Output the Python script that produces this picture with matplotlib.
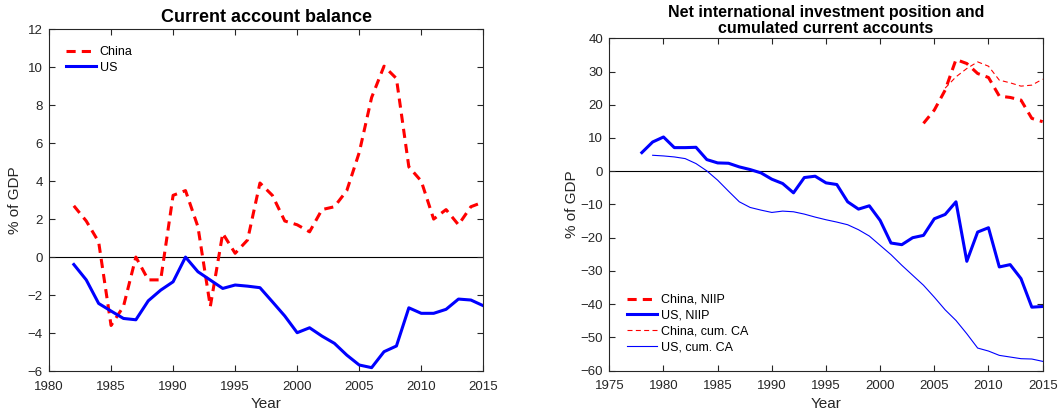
import matplotlib
matplotlib.use("Agg")
import matplotlib.pyplot as plt
import numpy as np

plt.rcParams['font.family'] = ['Liberation Sans', 'DejaVu Sans']

# ---- Left panel: current account balance (% of GDP) ----
ca_years = list(range(1982, 2016))
china_ca = [2.7, 1.9, 0.8, -3.6, -2.6, 0.0, -1.2, -1.2, 3.25, 3.5, 1.6, -2.6, 1.25, 0.2,
            0.9, 3.9, 3.25, 1.9, 1.7, 1.33, 2.5, 2.65, 3.5, 5.5, 8.4, 10.05, 9.4, 4.75,
            4.0, 2.0, 2.5, 1.7, 2.65, 2.9]
us_ca = [-0.39, -1.2, -2.44, -2.84, -3.23, -3.3, -2.3, -1.74, -1.3, 0.0, -0.77, -1.21,
         -1.65, -1.47, -1.53, -1.61, -2.35, -3.1, -3.98, -3.72, -4.16, -4.54, -5.16,
         -5.68, -5.82, -4.98, -4.68, -2.67, -2.96, -2.96, -2.75, -2.21, -2.26, -2.56]

# ---- Right panel: NIIP and cumulated CA (% of GDP) ----
us_niip_years = list(range(1978, 2016))
us_niip = [5.6, 8.8, 10.3, 7.1, 7.1, 7.2, 3.5, 2.5, 2.4, 1.3, 0.5, -0.5, -2.4, -3.7,
           -6.5, -1.9, -1.5, -3.5, -4.0, -9.2, -11.4, -10.4, -14.8, -21.6, -22.1, -20.0,
           -19.3, -14.3, -13.0, -9.2, -27.1, -18.3, -17.0, -28.8, -28.1, -32.3, -40.9, -40.7]
us_cum_years = list(range(1979, 2016))
us_cum = [4.8, 4.6, 4.3, 3.8, 2.3, 0.1, -2.7, -6.0, -9.2, -10.9, -11.7, -12.4, -12.0,
          -12.2, -12.9, -13.8, -14.6, -15.3, -16.1, -17.6, -19.5, -22.3, -25.1, -28.3,
          -31.3, -34.3, -37.9, -41.7, -44.9, -48.9, -53.2, -54.1, -55.4, -55.9, -56.4,
          -56.5, -57.2]
china_niip_years = list(range(2004, 2016))
china_niip = [14.4, 18.4, 24.4, 33.6, 32.4, 29.4, 28.2, 22.6, 22.2, 21.4, 15.9, 14.9]
china_cum_years = list(range(2006, 2016))
china_cum = [25.0, 28.4, 30.9, 32.9, 31.6, 27.4, 26.6, 25.6, 25.9, 27.7]

red = '#ff0000'
blue = '#0000ff'
axcol = '#262626'

fig = plt.figure(figsize=(10.61, 4.16), dpi=100)
ax1 = fig.add_axes([0.0462, 0.108, 0.4093, 0.822])
ax2 = fig.add_axes([0.5743, 0.109, 0.4084, 0.799])

def style(ax):
    for s in ax.spines.values():
        s.set_color(axcol)
        s.set_linewidth(0.8)
    ax.tick_params(direction='in', top=True, right=True, colors=axcol,
                   labelsize=9.5, length=4, width=0.8, labelcolor=axcol)
    ax.tick_params(axis='x', pad=7)
    ax.tick_params(axis='y', pad=4.5)

# Left
ax1.axhline(0, color='black', linewidth=0.8, zorder=1)
ax1.plot(ca_years, china_ca, color=red, linestyle=(0, (3.0, 2.0)), linewidth=2.2, label='China')
ax1.plot(ca_years, us_ca, color=blue, linewidth=2.2, label='US')
ax1.set_xlim(1980, 2015)
ax1.set_ylim(-6, 12)
ax1.set_xticks(range(1980, 2016, 5))
ax1.set_yticks(range(-6, 13, 2))
ax1.set_title('Current account balance', fontsize=13, fontweight='bold', pad=5)
ax1.set_xlabel('Year', fontsize=11, color=axcol, labelpad=3)
ax1.set_ylabel('% of GDP', fontsize=11, color=axcol, labelpad=4)
style(ax1)
leg1 = ax1.legend(loc='upper left', frameon=False, fontsize=9, handlelength=2.4,
                  handletextpad=0.3, borderaxespad=0.95, labelspacing=0.3)

# Right
ax2.axhline(0, color='black', linewidth=0.8, zorder=1)
ax2.plot(china_niip_years, china_niip, color=red, linestyle=(0, (3.0, 2.0)), linewidth=2.2,
         label='China, NIIP')
ax2.plot(us_niip_years, us_niip, color=blue, linewidth=2.2, label='US, NIIP')
ax2.plot(china_cum_years, china_cum, color=red, linestyle=(0, (4.5, 3.0)), linewidth=0.8,
         label='China, cum. CA')
ax2.plot(us_cum_years, us_cum, color=blue, linewidth=0.8, label='US, cum. CA')
ax2.set_xlim(1975, 2015)
ax2.set_ylim(-60, 40)
ax2.set_xticks(range(1975, 2016, 5))
ax2.set_yticks(range(-60, 41, 10))
ax2.set_title('Net international investment position and\ncumulated current accounts',
              fontsize=11.5, fontweight='bold', pad=4, linespacing=1.05)
ax2.set_xlabel('Year', fontsize=11, color=axcol, labelpad=3)
ax2.set_ylabel('% of GDP', fontsize=11, color=axcol, labelpad=1)
style(ax2)
leg2 = ax2.legend(loc='lower left', frameon=False, fontsize=9, handlelength=2.4,
                  handletextpad=0.3, borderaxespad=1.0, labelspacing=0.3)

fig.savefig('out.png', dpi=100)
